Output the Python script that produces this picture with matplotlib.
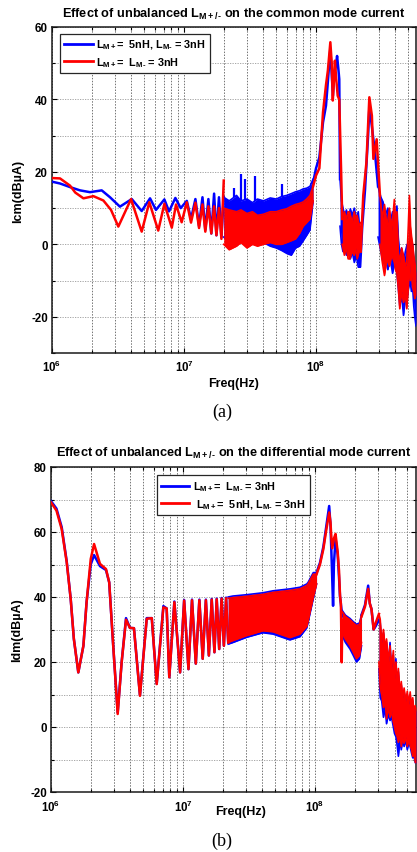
import numpy as np
import matplotlib
matplotlib.use("Agg")
import matplotlib.pyplot as plt
from matplotlib.lines import Line2D
from matplotlib.ticker import FixedLocator, MultipleLocator, LogLocator, NullFormatter

plt.rcParams['font.family'] = ['Liberation Sans', 'DejaVu Sans']
plt.rcParams['mathtext.fontset'] = 'custom'
plt.rcParams['mathtext.rm'] = 'Liberation Sans:bold'
plt.rcParams['mathtext.bf'] = 'Liberation Sans:bold'
plt.rcParams['mathtext.it'] = 'Liberation Sans:bold'
plt.rcParams['mathtext.default'] = 'bf'
plt.rcParams['axes.unicode_minus'] = False

MHZ = 1e6

# ---------------- (a) common mode current ----------------
cm_blue_f = [1.0, 1.15, 1.37, 1.63, 1.94, 2.38, 2.75, 3.27, 4.02, 4.78, 5.53, 6.13, 7.1, 7.7, 8.6, 9.44,
             10.5, 11.3, 12.2, 13.0, 13.8, 14.5, 15.3, 16.1, 16.9, 17.6, 18.4, 19.2, 20.0]
cm_blue_v = [17.3, 16.8, 15.8, 14.9, 14.4, 14.9, 13.0, 10.4, 12.5, 9.2, 12.7, 9.5, 12.4, 9.1, 12.8, 10.0,
             12.0, 7.0, 12.5, 5.0, 13.0, 4.0, 12.5, 3.0, 14.0, 2.5, 13.0, 2.0, 13.0]
cm_blue_band_f = [20, 22, 25, 27, 30, 33, 36, 40, 45, 50, 55, 60, 65, 70, 75, 80, 85, 90, 95]
cm_blue_band_hi = [13.0, 12.0, 13.5, 12.0, 12.5, 11.5, 12.5, 12.0, 12.8, 12.5, 13.2, 13.5, 14.0, 14.5, 14.8, 15.3, 15.5, 16.0, 18.0]
cm_blue_band_lo = [2.0, 0.5, 1.0, 2.0, 1.5, 0.0, 1.0, 0.5, -0.5, -1.0, -1.7, -2.5, -3.0, -1.0, -0.5, 1.0, 2.5, 4.0, 12.0]
cm_blue_spike_f = [24, 27, 29, 34.4, 55]
cm_blue_spike_v = [15.5, 19.5, 18.0, 19.0, 16.7]
cm_blue_hf_f = [95, 100, 106, 113, 119, 123, 128.4, 131, 134.3, 137.4, 141, 144.4, 148, 150, 152]
cm_blue_hf_v = [17, 21, 24, 33.7, 38.3, 45, 54, 48, 41, 47, 49, 52, 48, 45.6, 18]
cm_blue_b2_f = [152, 156, 160, 165, 170, 176, 182, 188, 195, 202, 209, 216]
cm_blue_b2_hi = [18, 12, 10, 8, 9.5, 7, 9.8, 8, 10, 7, 9, 2]
cm_blue_b2_lo = [5, 0, -2, -1, -3, -1, -4, -2, -5, -3, -6.3, -6.3]
cm_blue_hf2_f = [216, 224, 235, 248, 253, 260, 266, 280, 295]
cm_blue_hf2_v = [-6, 5, 15, 30, 37, 35, 32, 25, 16]
cm_blue_b3_f = [295, 310, 322, 335, 350, 365, 380, 395, 410, 420, 431, 445, 460, 475, 490, 503, 516, 528, 540, 550, 560, 572]
cm_blue_b3_hi = [16, 13, 11.7, 8, 10, 6, 9, 5, 10.6, 2, -3, -1, -5, -2, 0, -3, 2, -2, 0, -4, -5, -8]
cm_blue_b3_lo = [2, -2, -5, -3, -7, -4, -8, -5, -8, -12, -17, -14, -19.6, -15, -15, -12, -10, -13, -12, -17, -20, -22.5]

cm_red_f = [1.0, 1.15, 1.37, 1.5, 1.73, 2.06, 2.45, 2.8, 3.18, 3.97, 4.78, 5.46, 6.38, 7.1, 8.08, 8.7, 9.6,
            10.5, 11.3, 12.2, 13.0, 13.8, 14.5, 15.3, 16.1, 16.9, 17.6, 18.4, 19.2, 20.0]
cm_red_v = [18.3, 18.2, 16.2, 14.3, 12.7, 13.3, 12.1, 9.5, 4.9, 12.5, 3.5, 11.6, 3.8, 11.2, 4.6, 11.0, 6.1,
            11.6, 6.0, 11.5, 4.5, 11.0, 3.5, 10.5, 3.0, 10.5, 2.5, 10.0, 1.5, 17.6]
cm_red_band_f = [20, 22, 25, 27, 30, 33, 36, 40, 45, 50, 55, 60, 65, 70, 75, 80, 85, 90, 95]
cm_red_band_hi = [10.0, 9.5, 9.0, 9.5, 8.5, 9.0, 8.0, 8.3, 9.0, 9.0, 9.5, 9.8, 10.5, 11.0, 11.3, 11.7, 12.5, 13.5, 16.0]
cm_red_band_lo = [0.0, -1.5, -0.5, 0.5, -1.0, 0.0, -0.5, 0.0, 0.5, 0.0, 0.0, 0.5, 1.0, 1.5, 3.0, 5.0, 6.0, 7.0, 12.0]
cm_red_hf_f = [95, 100, 106, 113, 119, 123, 128.4, 131.5, 134, 136.5, 139, 142, 146, 150, 155, 158]
cm_red_hf_v = [16, 19, 21, 36.5, 44, 48, 55.8, 50, 39.7, 45, 50.7, 46, 41, 40, 20, 7]
cm_red_b2_f = [158, 164, 170, 175, 180, 188, 195, 200, 205, 212, 218]
cm_red_b2_hi = [7, 9, 7, 9, 8.9, 6, 9, 7, 8, 5, 6]
cm_red_b2_lo = [0, -3, -1, -4, -4, -2, -3, -1, -4, -2, -2]
cm_red_hf2_f = [218, 228, 241, 253.5, 265, 272, 288, 305]
cm_red_hf2_v = [-2, 13.5, 22.7, 40.6, 35.5, 23.6, 29, 13.5]
cm_red_b3_f = [305, 318, 330, 345, 360, 375, 392, 400, 410, 420, 431, 445, 460, 475, 487, 500, 510, 520, 530, 540, 550, 560, 572]
cm_red_b3_hi = [13.5, 7, 11, 5, 10, 4, 12.4, 6, 9, -2, -5, -1, -3, -6, -5, 5, 13.5, 5, 2, 0, -3, -5, -8]
cm_red_b3_lo = [0, -5, -8.6, -4, -6, -3, -5, -7, -8, -12, -17.8, -13, -16, -14, -17.8, -12, -5, -10, -9, -12, -13, -15, -14]

# ---------------- (b) differential mode current ----------------
dm_f = [1.0, 1.10, 1.205, 1.315, 1.41, 1.49, 1.61, 1.76, 1.86, 2.0, 2.12, 2.35, 2.61, 2.76, 2.96, 3.2,
        3.43, 3.70, 3.96, 4.25, 4.72, 5.31, 5.80, 6.32, 7.10, 7.52, 7.87, 8.6, 9.5, 10.2, 11.0, 11.7,
        12.5, 13.3, 14.1, 14.9, 15.7, 16.5, 17.3, 18.0, 18.8, 19.6, 20.4, 21.2, 22.0]
dm_red_v = [69.1, 66.6, 60.9, 50.7, 39.4, 27.1, 16.8, 25, 38.4, 51.7, 56.3, 50.2, 48.6, 44.5, 25, 4,
            20, 33, 30.5, 30.4, 9.6, 33.3, 33.5, 13.2, 36.8, 36.5, 15.3, 38.4, 16.8, 38.9, 17.8, 39,
            19.5, 39, 21, 39, 22, 39.2, 23, 39.3, 24, 39.5, 25, 39.6, 26]
dm_blue_v = [69.5, 67.2, 61.5, 51.0, 39.4, 27.1, 16.8, 25, 38.4, 50.0, 52.9, 49.5, 48.3, 44.5, 25, 4.5,
             20, 33.5, 30.5, 30.4, 9.8, 33.5, 33.5, 13.3, 37.2, 36.5, 15.3, 38.6, 16.8, 39.1, 17.8, 39.2,
             19.5, 39.2, 21, 39.2, 22, 39.4, 23, 39.5, 24, 39.7, 25, 39.8, 26]
dm_band_f = [22, 23.9, 30.3, 40.3, 48, 64.5, 77, 86.6, 88.6, 97, 102.7]
dm_red_band_hi = [39.6, 39.8, 40.2, 40.8, 41.4, 42, 42.5, 43.5, 44, 47, 47]
dm_red_band_lo = [26, 26.6, 28.1, 29.6, 29.3, 27.5, 28.6, 31, 32.7, 40, 44]
dm_blue_band_hi = [40.0, 40.3, 40.7, 41.3, 41.9, 42.5, 43.0, 44.0, 44.5, 47.5, 47.5]
dm_blue_band_lo = [25.5, 26.0, 27.6, 29.0, 28.6, 26.8, 27.8, 30.5, 32.2, 39.5, 44]
dm_red_hf_f = [102.7, 109, 115.7, 121, 128, 131, 133, 135, 139, 143, 148.5, 152, 154.7, 157, 159.3, 161]
dm_red_hf_v = [47, 50, 54.8, 60, 66, 63, 58, 55, 58, 59.4, 53.8, 48, 40.4, 38, 19.9, 33]
dm_blue_hf_f = [102.7, 109, 115.7, 121, 128, 131, 134, 137, 139, 143, 148.5, 152, 154.7, 161]
dm_blue_hf_v = [47.5, 50.5, 55.5, 61, 68, 62, 50, 37.3, 50, 58, 53, 46, 40, 34]
dm_b2_f = [161, 170, 184, 195, 206, 217, 225]
dm_red_b2_hi = [35.4, 34, 33, 32, 31.2, 31.5, 34]
dm_red_b2_lo = [29, 27, 25, 23, 21, 22, 26]
dm_blue_b2_hi = [35.8, 34.4, 33.4, 32.4, 31.6, 32, 34.5]
dm_blue_b2_lo = [28, 26, 24, 22, 20, 21, 25]
dm_hf2_f = [225, 239, 252.7, 260, 267.7, 278, 288, 305]
dm_red_hf2_v = [34, 37, 42.5, 38, 36.3, 30, 32, 34.8]
dm_blue_hf2_v = [34.5, 37.5, 43.5, 38, 36.3, 30, 31, 33]
dm_b3_f = [305, 312, 320, 330, 340, 348, 360, 370, 380, 392, 400, 410, 420, 428, 440, 450, 462, 473, 487, 500, 512, 526, 538, 550, 562, 575, 582]
dm_red_b3_hi = [34.8, 33, 26, 30, 24, 27.1, 20, 25, 18, 23.5, 15, 20, 12, 18, 10, 14, 9, 12, 8, 11, 7, 10.8, 6, 9, 4, 6.6, 6]
dm_red_b3_lo = [20, 12, 10, 6, 8, 2.5, 6, 3, 5, 1.5, 0, -2, -3, -4.7, -2, -6, -3, -5, -3, -6, -4, -5.7, -7, -9, -8, -10.9, -11]
dm_blue_b3_hi = [33, 32, 25, 29, 23, 26, 19, 26, 17, 22, 14, 21, 11, 17, 9, 13, 8, 11, 7, 10, 6, 9.5, 5, 8, 3, 5, 5]
dm_blue_b3_lo = [18, 9, 8, 3, 6, 1, 4, 2, 3, 0, -2, -3, -6, -9, -4, -7, -4, -6, -4, -7, -5, -6, -8, -9.5, -9, -11, -11]

# ---------------- figure ----------------
fig = plt.figure(figsize=(4.17, 8.53), dpi=100)
W, H = 417, 853
ax1 = fig.add_axes([52 / W, 1 - 354 / H, 364 / W, 326 / H])
ax2 = fig.add_axes([51 / W, 1 - 793 / H, 365 / W, 325 / H])

LW = 1.8


def mhz(a):
    return np.asarray(a, dtype=float) * MHZ


def line(ax, f, v, c):
    ax.plot(mhz(f), v, color=c, lw=LW, solid_joinstyle='round', zorder=3)


def band(ax, f, hi, lo, c):
    ax.fill_between(mhz(f), lo, hi, color=c, lw=0, zorder=3)
    ax.plot(mhz(f), hi, color=c, lw=1.2, zorder=3)
    ax.plot(mhz(f), lo, color=c, lw=1.2, zorder=3)


B, R = (0, 0, 1), (1, 0, 0)

# (a)
line(ax1, cm_blue_f, cm_blue_v, B)
band(ax1, cm_blue_band_f, cm_blue_band_hi, cm_blue_band_lo, B)
base = np.interp(cm_blue_spike_f, cm_blue_band_f, cm_blue_band_hi)
ax1.vlines(mhz(cm_blue_spike_f), base, cm_blue_spike_v, color=B, lw=1.6, zorder=3)
line(ax1, cm_blue_hf_f, cm_blue_hf_v, B)
band(ax1, cm_blue_b2_f, cm_blue_b2_hi, cm_blue_b2_lo, B)
line(ax1, cm_blue_hf2_f, cm_blue_hf2_v, B)
band(ax1, cm_blue_b3_f, cm_blue_b3_hi, cm_blue_b3_lo, B)

line(ax1, cm_red_f, cm_red_v, R)
band(ax1, cm_red_band_f, cm_red_band_hi, cm_red_band_lo, R)
line(ax1, cm_red_hf_f, cm_red_hf_v, R)
band(ax1, cm_red_b2_f, cm_red_b2_hi, cm_red_b2_lo, R)
line(ax1, cm_red_hf2_f, cm_red_hf2_v, R)
band(ax1, cm_red_b3_f, cm_red_b3_hi, cm_red_b3_lo, R)

# (b)
line(ax2, dm_f, dm_blue_v, B)
band(ax2, dm_band_f, dm_blue_band_hi, dm_blue_band_lo, B)
line(ax2, dm_blue_hf_f, dm_blue_hf_v, B)
band(ax2, dm_b2_f, dm_blue_b2_hi, dm_blue_b2_lo, B)
line(ax2, dm_hf2_f, dm_blue_hf2_v, B)
band(ax2, dm_b3_f, dm_blue_b3_hi, dm_blue_b3_lo, B)

line(ax2, dm_f, dm_red_v, R)
band(ax2, dm_band_f, dm_red_band_hi, dm_red_band_lo, R)
line(ax2, dm_red_hf_f, dm_red_hf_v, R)
band(ax2, dm_b2_f, dm_red_b2_hi, dm_red_b2_lo, R)
line(ax2, dm_hf2_f, dm_red_hf2_v, R)
band(ax2, dm_b3_f, dm_red_b3_hi, dm_red_b3_lo, R)

FS = 8.3
for ax, xmax, ylim, ymaj in ((ax1, 5.72e8, (-30, 60), [-20, 0, 20, 40, 60]),
                              (ax2, 5.82e8, (-20, 80), [-20, 0, 20, 40, 60, 80])):
    ax.set_xscale('log')
    ax.set_xlim(1e6, xmax)
    ax.set_ylim(*ylim)
    ax.xaxis.set_major_locator(FixedLocator([1e6, 1e7, 1e8]))
    ax.set_xticklabels([r'$\mathbf{10^{6}}$', r'$\mathbf{10^{7}}$', r'$\mathbf{10^{8}}$'])
    ax.xaxis.set_minor_locator(LogLocator(base=10, subs=np.arange(2, 10)))
    ax.xaxis.set_minor_formatter(NullFormatter())
    ax.yaxis.set_major_locator(FixedLocator(ymaj))
    ax.yaxis.set_minor_locator(MultipleLocator(10))
    ax.grid(which='both', axis='x', ls=(0, (1.5, 1.5)), color='0.45', lw=0.7)
    ax.grid(which='both', axis='y', ls=(0, (1.5, 1.5)), color='0.6', lw=0.6)
    ax.set_axisbelow(True)
    ax.tick_params(which='both', direction='in', top=True, right=True, labelsize=FS, width=0.8)
    ax.tick_params(which='major', length=3.5)
    ax.tick_params(which='minor', length=2)
    for lab in ax.get_yticklabels():
        lab.set_fontweight('bold')
    for s in ax.spines.values():
        s.set_linewidth(1.1)
        s.set_color('0.1')

ax1.tick_params(axis='x', pad=4)
ax2.tick_params(axis='x', pad=5)
ax1.tick_params(axis='y', pad=3)
ax2.tick_params(axis='y', pad=3)

ax1.set_title('Effect of unbalanced L$_{M+/‐}$ on the common mode current',
              fontsize=9.2, fontweight='bold', pad=7)
ax2.set_title('Effect of unbalanced L$_{M+/‐}$ on the differential mode current',
              fontsize=9.2, fontweight='bold', pad=8)
ax1.set_xlabel('Freq(Hz)', fontsize=9, fontweight='bold', labelpad=2)
ax2.set_xlabel('Freq(Hz)', fontsize=9, fontweight='bold')
ax2.xaxis.set_label_coords(0.52, -0.04)
ax1.set_ylabel('Icm(dBµA)', fontsize=9, fontweight='bold', labelpad=5)
ax2.set_ylabel('Idm(dBµA)', fontsize=9, fontweight='bold', labelpad=5)

h_b = Line2D([], [], color=B, lw=2)
h_r = Line2D([], [], color=R, lw=2)
leg1 = ax1.legend([h_b, h_r],
                  ['L$_{M+}$=  5nH, L$_{M‐}$ = 3nH', 'L$_{M+}$=  L$_{M‐}$ = 3nH'],
                  loc='upper left', bbox_to_anchor=(0.022, 0.98), borderaxespad=0,
                  fancybox=False, framealpha=1, edgecolor='0.15',
                  handlelength=2.6, handletextpad=0.3, labelspacing=0.35, borderpad=0.4,
                  prop={'weight': 'bold', 'size': 7.8})
leg1.get_frame().set_linewidth(0.9)
leg2 = ax2.legend([h_b, h_r],
                  ['L$_{M+}$=  L$_{M‐}$ = 3nH', ' L$_{M+}$=  5nH, L$_{M‐}$ = 3nH'],
                  loc='upper left', bbox_to_anchor=(0.29, 0.975), borderaxespad=0,
                  fancybox=False, framealpha=1, edgecolor='0.15',
                  handlelength=2.6, handletextpad=0.3, labelspacing=0.35, borderpad=0.4,
                  prop={'weight': 'bold', 'size': 7.8})
leg2.get_frame().set_linewidth(0.9)
for lg in (leg1, leg2):
    lg.set_zorder(10)

fig.text(222 / W, 1 - 412 / H, '(a)', ha='center', va='center', fontsize=13,
         family=['Liberation Serif', 'DejaVu Serif'])
fig.text(222 / W, 1 - 841 / H, '(b)', ha='center', va='center', fontsize=13,
         family=['Liberation Serif', 'DejaVu Serif'])

fig.savefig('out.png', dpi=100)
